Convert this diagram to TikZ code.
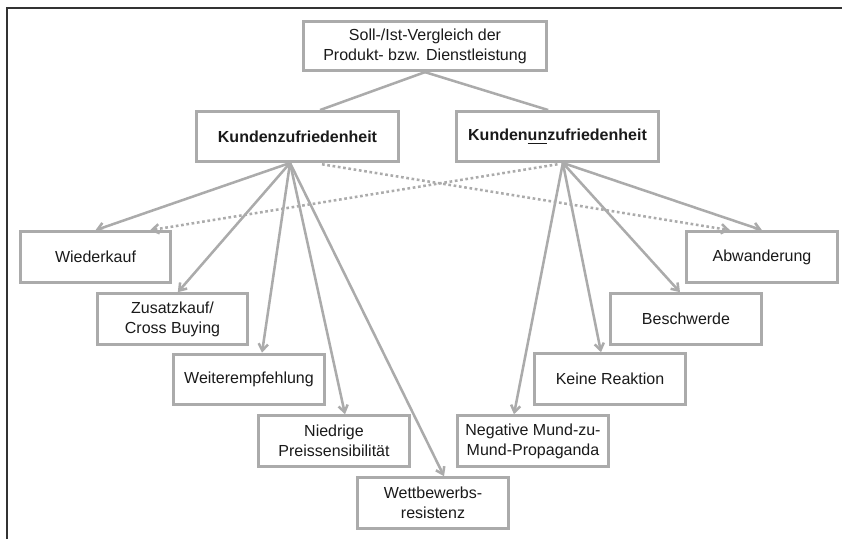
\documentclass[tikz,border=0pt]{standalone}
\usepackage{fontspec}
\setmainfont{Liberation Sans}
\usepackage{xcolor}
\usepackage{tikz}
\usetikzlibrary{arrows.meta, positioning}
\definecolor{linie}{HTML}{ABABAB}
\definecolor{schrift}{HTML}{1A1A1A}
\definecolor{rand}{HTML}{333333}
\tikzset{
  kasten/.style={rectangle, draw=linie, line width=2.2pt, fill=white,
    text=schrift, font=\fontsize{12}{15}\selectfont, align=center,
    minimum width=113pt, minimum height=38pt, inner sep=2pt},
  kopf/.style={kasten, minimum width=152pt, minimum height=37.5pt},
  titel/.style={kasten, minimum width=182pt, minimum height=37pt},
  pfeil/.style={-{Straight Barb[length=5pt, width=7pt]}, line width=1.9pt, color=linie},
  punktpfeil/.style={pfeil, dash pattern=on 2pt off 2pt},
  verbindung/.style={line width=1.9pt, color=linie}
}

\begin{document}
\begin{tikzpicture}[x=0.75pt, y=-0.75pt]
    \useasboundingbox (0,0) rectangle (842,539);
    % Rahmen
    \draw[rand, line width=1pt] (7,539) -- (7,8) -- (842,8);

    \node[titel] (vergleich) at (425,46) {Soll-/Ist-Vergleich der\\ Produkt- bzw. Dienstleistung};
    \node[kopf] (zuf) at (297.5,136.5) {\bfseries Kundenzufriedenheit};
    \node[kopf] (unzuf) at (557.5,136.5) {\bfseries Kunden\underline{un}zufriedenheit};

    \node[kasten] (wieder) at (95.5,257) {Wiederkauf};
    \node[kasten] (zusatz) at (172.5,319) {Zusatzkauf/\\ Cross Buying};
    \node[kasten] (weiter) at (249,379.5) {Weiterempfehlung};
    \node[kasten] (preis) at (334,441) {Niedrige\\ Preissensibilität};
    \node[kasten] (wettb) at (433,503) {Wettbewerbs-\\ resistenz};

    \node[kasten] (mund) at (533,441) {Negative Mund-zu-\\ Mund-Propaganda};
    \node[kasten] (keine) at (610,379) {Keine Reaktion};
    \node[kasten] (beschw) at (686,319) {Beschwerde};
    \node[kasten] (abwand) at (762,257) {Abwanderung};

    \coordinate (zufq) at ([xshift=-5.6pt]zuf.south);
    \coordinate (unzufq) at ([xshift=4pt]unzuf.south);

    \draw[verbindung] (vergleich.south) -- ([xshift=16.9pt]zuf.north);
    \draw[verbindung] (vergleich.south) -- ([xshift=-7pt]unzuf.north);

    \draw[punktpfeil] ([xshift=18.4pt, yshift=-1pt]zuf.south) -- ([xshift=-24pt]abwand.north);
    \draw[punktpfeil] ([yshift=-1pt]unzuf.south) -- ([xshift=41pt]wieder.north);

    \draw[pfeil] (zufq) -- (wieder.north);
    \draw[pfeil] (zufq) -- ([xshift=4pt]zusatz.north);
    \draw[pfeil] (zufq) -- ([xshift=9.75pt]weiter.north);
    \draw[pfeil] (zufq) -- ([xshift=8.25pt]preis.north);
    \draw[pfeil] (zufq) -- ([xshift=8.25pt]wettb.north);

    \draw[pfeil] (unzufq) -- ([xshift=-14.25pt]mund.north);
    \draw[pfeil] (unzufq) -- ([xshift=-6.75pt]keine.north);
    \draw[pfeil] (unzufq) -- ([xshift=-4.5pt]beschw.north);
    \draw[pfeil] (unzufq) -- (abwand.north);
  \end{tikzpicture}
\end{document}
